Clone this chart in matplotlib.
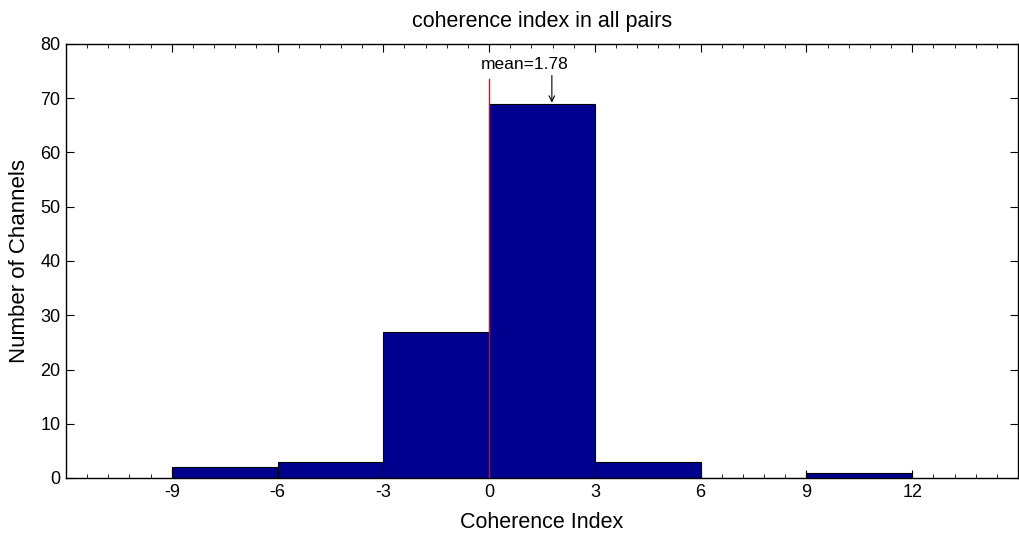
import matplotlib
matplotlib.use("Agg")
import matplotlib.pyplot as plt
from matplotlib.ticker import MultipleLocator

plt.rcParams['font.family'] = ['Liberation Sans', 'DejaVu Sans']
plt.rcParams['axes.unicode_minus'] = False

bin_edges = [-9, -6, -3, 0, 3, 6, 9, 12]
counts = [2, 3, 27, 69, 3, 0, 1]
mean_val = 1.78
xticks = [-9, -6, -3, 0, 3, 6, 9, 12]
yticks = [0, 10, 20, 30, 40, 50, 60, 70, 80]

fig = plt.figure(figsize=(10.19, 5.33), dpi=100)
ax = fig.add_axes([66/1019, 1-478/533, 1-66/1019-0.001, (478-44)/533])

lefts = bin_edges[:-1]
widths = [b - a for a, b in zip(bin_edges[:-1], bin_edges[1:])]
ax.bar(lefts, counts, width=widths, align='edge', color='#00008F',
       edgecolor='black', linewidth=0.8, zorder=2)

ax.plot([0, 0], [0, 73.5], color='red', linewidth=1, zorder=3)
ax.text(1.0, 74.9, 'mean=%.2f' % mean_val, ha='center', va='bottom',
        fontsize=12.5, zorder=4)
ax.annotate('', xy=(mean_val, 69.2), xytext=(mean_val, 74.2),
            arrowprops=dict(arrowstyle='->', color='black', lw=0.8,
                            shrinkA=0, shrinkB=0),
            zorder=4)

ax.set_xlim(-12, 15)
ax.set_ylim(0, 80)
ax.set_xticks(xticks)
ax.set_yticks(yticks)
ax.xaxis.set_minor_locator(MultipleLocator(0.6))
ax.tick_params(axis='both', which='both', direction='in', top=True, right=True,
               labelsize=13, pad=4)
ax.tick_params(axis='both', which='major', length=6, width=0.8)
ax.tick_params(axis='x', which='minor', length=3, width=0.6)
for s in ax.spines.values():
    s.set_linewidth(1.0)

ax.set_title('coherence index in all pairs', fontsize=15.5, pad=12)
ax.set_xlabel('Coherence Index', fontsize=15.5, labelpad=8)
ax.set_ylabel('Number of Channels', fontsize=16, labelpad=7)

fig.savefig('out.png', dpi=100)
